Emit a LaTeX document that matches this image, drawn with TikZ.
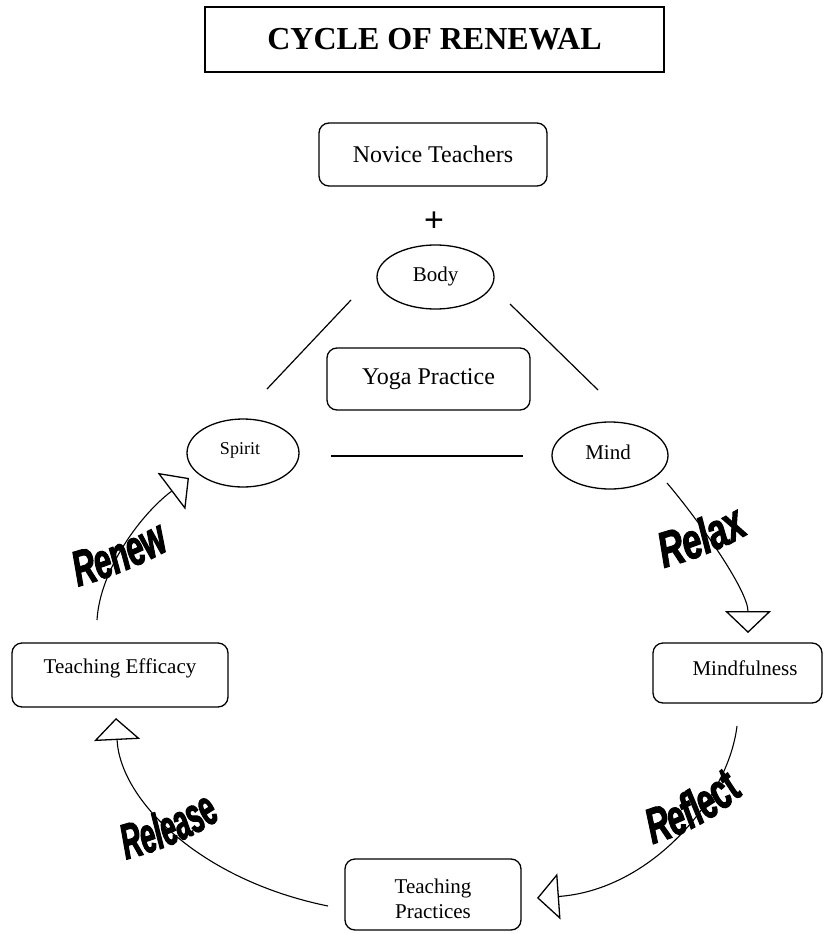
\documentclass[tikz,border=0pt]{standalone}
\usepackage{fontspec}
\setmainfont{Liberation Serif}
\newfontfamily\plusfont{Liberation Sans}
\newfontfamily\wRenew[FakeStretch=0.62,FakeBold=2]{Liberation Sans}
\newfontfamily\wRelax[FakeStretch=0.69,FakeBold=2]{Liberation Sans}
\newfontfamily\wReflect[FakeStretch=0.63,FakeBold=2]{Liberation Sans}
\newfontfamily\wRelease[FakeStretch=0.55,FakeBold=2]{Liberation Sans}
\usetikzlibrary{shapes.geometric,arrows.meta,decorations.text}
\tikzset{
  rbox/.style={draw, line width=1.3pt, rounded corners=10pt, inner sep=0pt, align=center},
  oval/.style={draw, ellipse, line width=1.3pt, inner sep=0pt},
  plain/.style={line width=1.2pt},
  cyc/.style={line width=1.1pt, -{Triangle[open, length=22pt, width=46pt, line width=1.3pt]}},
}
\begin{document}
\begin{tikzpicture}[x=1pt,y=-1pt]
\useasboundingbox (0,0) rectangle (825,934);
% title
\node[draw, line width=1.3pt, minimum width=459pt, minimum height=65pt, inner sep=0pt]
  (title) at (434.5,39.5) {\fontsize{32}{36}\selectfont\bfseries CYCLE OF RENEWAL};
% top nodes
\node[rbox, minimum width=228pt, minimum height=63pt] (novice) at (433,154.5)
  {\fontsize{24}{28}\selectfont Novice Teachers};
\node (plus) at (434,222) {\plusfont\fontsize{34}{36}\selectfont +};
\node[oval, minimum width=117pt, minimum height=64pt] (body) at (435.5,277) {};
\node (bodyt) at (435.5,276) {\fontsize{21}{24}\selectfont Body};
\node[rbox, minimum width=203pt, minimum height=62pt] (yoga) at (428.5,379)
  {\fontsize{24}{28}\selectfont Yoga Practice};
\node[oval, minimum width=112pt, minimum height=68pt] (spirit) at (243,453) {};
\node (spiritt) at (240,450) {\fontsize{18}{22}\selectfont Spirit};
\node[oval, minimum width=116pt, minimum height=67pt] (mind) at (610,455.5) {};
\node (mindt) at (608,452) {\fontsize{21}{24}\selectfont Mind};
% cycle boxes
\node[rbox, minimum width=169pt, minimum height=60pt] (mindful) at (737.5,673) {};
\node (mindfult) at (745,668) {\fontsize{21}{24}\selectfont Mindfulness};
\node[rbox, minimum width=216pt, minimum height=64pt] (efficacy) at (120,675) {};
\node (efficacyt) at (120,668) {\fontsize{21}{24}\selectfont Teaching Efficacy};
\node[rbox, minimum width=176pt, minimum height=71pt] (practices) at (433,894.5) {};
\node[align=center, font=\fontsize{21}{25}\selectfont] (practicest) at (433,899)
  {Teaching\\Practices};
% triangle lines
\coordinate (bl1) at (351,300); \coordinate (bl2) at (267,389);
\coordinate (br1) at (510,304); \coordinate (br2) at (598,390);
\coordinate (h1) at (331,456); \coordinate (h2) at (523,456);
\draw[plain] (bl1) -- (bl2);
\draw[plain] (br1) -- (br2);
\draw[plain] (h1) -- (h2);
% cycle arrows
\coordinate (rx1) at (667,483); \coordinate (rx2) at (748,633);
\coordinate (rf1) at (737,726); \coordinate (rf2) at (537,898);
\coordinate (rl1) at (328,906); \coordinate (rl2) at (116,718);
\coordinate (rn1) at (97,620);  \coordinate (rn2) at (189,478);
\draw[cyc] (rx1) .. controls (697,518) and (748,590) .. (rx2);
\draw[cyc] (rf1) .. controls (728,800) and (650,890) .. (rf2);
\draw[cyc] (rl1) .. controls (200,880) and (120,800) .. (rl2);
\draw[cyc] (rn1) .. controls (100,570) and (140,515) .. (rn2);
% word-art labels
\path[decorate, decoration={text along path, text align=center,
  text={|\wRenew\bfseries\itshape\fontsize{50}{50}\selectfont|Renew}}]
  (72,588) .. controls (105,580) and (140,566) .. (176,546);
\path[decorate, decoration={text along path, text align=center,
  text={|\wRelax\bfseries\itshape\fontsize{50}{50}\selectfont|Relax}}]
  (656,570) .. controls (690,561) and (725,549) .. (756,529);
\path[decorate, decoration={text along path, text align=center,
  text={|\wReflect\bfseries\itshape\fontsize{50}{50}\selectfont|Reflect}}]
  (642,847) .. controls (680,837) and (715,821) .. (752,786);
\path[decorate, decoration={text along path, text align=center,
  text={|\wRelease\bfseries\itshape\fontsize{50}{50}\selectfont|Release}}]
  (117,862) .. controls (155,852) and (190,841) .. (229,813);
\end{tikzpicture}
\end{document}
